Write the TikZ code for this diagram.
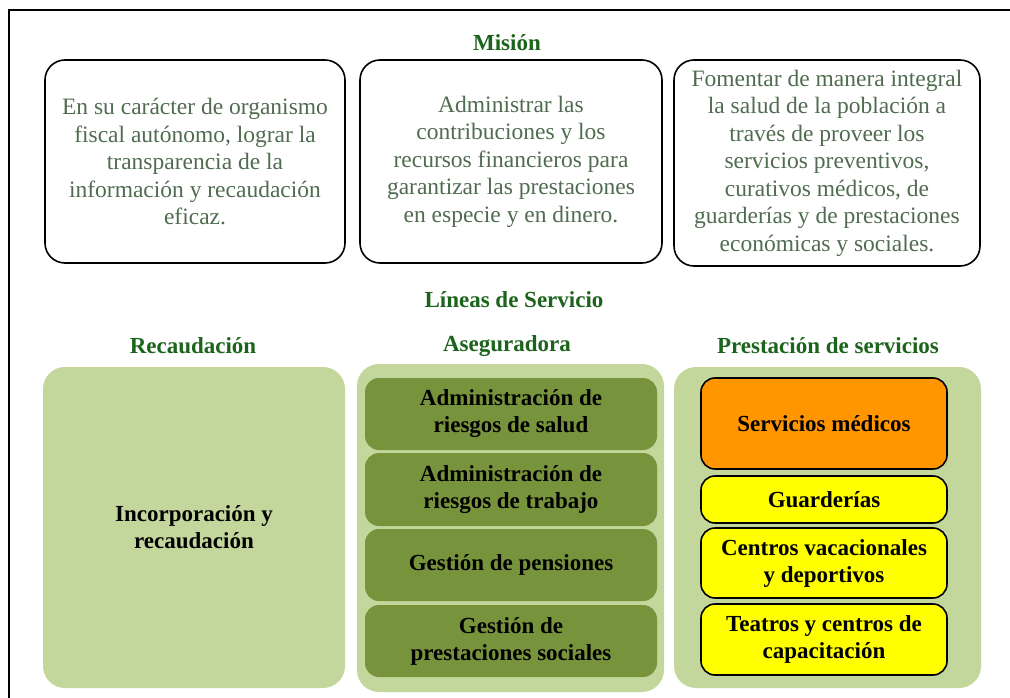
\documentclass[tikz,border=0pt]{standalone}
\usepackage{fontspec}
\setmainfont{Liberation Serif}
\usepackage{tikz}

\definecolor{titlegreen}{RGB}{28,100,28}
\definecolor{misiontext}{RGB}{80,108,80}
\definecolor{lightgreen}{RGB}{195,214,155}
\definecolor{darkgreen}{RGB}{119,147,60}
\definecolor{medorange}{RGB}{255,150,0}
\definecolor{boxyellow}{RGB}{255,255,0}

\tikzset{
  title/.style={font=\fontsize{23}{27}\selectfont\bfseries, text=titlegreen},
  misionbox/.style={draw=black, line width=1.6pt, rounded corners=20pt,
    align=center, text=misiontext, inner sep=0pt,
    font=\fontsize{23.5}{27.5}\selectfont},
  groupbox/.style={fill=lightgreen, rounded corners=22pt, inner sep=0pt},
  asegbox/.style={fill=darkgreen, rounded corners=14pt, align=center,
    inner sep=0pt, font=\fontsize{23}{27}\selectfont\bfseries},
  servbox/.style={draw=black, line width=1.6pt, rounded corners=14pt,
    align=center, inner sep=0pt, font=\fontsize{23}{27}\selectfont\bfseries}
}

\begin{document}
\begin{tikzpicture}[x=1pt,y=-1pt]
\useasboundingbox (0,0) rectangle (1010,698);
\clip (0,0) rectangle (1010,698);
\draw[line width=2pt] (9,10) rectangle (1030,720);

% mision
\node[title] (mision) at (507,43) {Misión};
\node[misionbox, minimum width=300pt, minimum height=203pt] (mis1) at (195,161.5)
  {En su carácter de organismo\\fiscal autónomo, lograr la\\transparencia de la\\información y recaudación\\eficaz.};
\node[misionbox, minimum width=302pt, minimum height=203pt] (mis2) at (511,161.5)
  {Administrar las\\contribuciones y los\\recursos financieros para\\garantizar las prestaciones\\en especie y en dinero.};
\node[misionbox, minimum width=306pt, minimum height=206pt] (mis3) at (827,163)
  {Fomentar de manera integral\\la salud de la población a\\través de proveer los\\servicios preventivos,\\curativos médicos, de\\guarderías y de prestaciones\\económicas y sociales.};

% lineas de servicio
\node[title] (lineas) at (514,300) {Líneas de Servicio};
\node[title] (recaud) at (193,346) {Recaudación};
\node[title] (asegur) at (507,346) {Aseguradora};
\node[title] (prest) at (828,346) {Prestación de servicios};

\node[groupbox, minimum width=302pt, minimum height=321pt, align=center,
  font=\fontsize{23}{27}\selectfont\bfseries] (incorp) at (194,527.5)
  {Incorporación y\\recaudación};

\node[groupbox, minimum width=307pt, minimum height=328pt] (asegbg) at (510.5,528) {};
\node[asegbox, minimum width=292pt, minimum height=72pt] (salud) at (511,414)
  {Administración de\\riesgos de salud};
\node[asegbox, minimum width=292pt, minimum height=73pt] (trabajo) at (511,489.5)
  {Administración de\\riesgos de trabajo};
\node[asegbox, minimum width=292pt, minimum height=72pt] (pensiones) at (511,565)
  {Gestión de pensiones};
\node[asegbox, minimum width=292pt, minimum height=72pt] (sociales) at (511,641)
  {Gestión de\\prestaciones sociales};

\node[groupbox, minimum width=307pt, minimum height=321pt] (prestbg) at (827.5,527.5) {};
\node[servbox, fill=medorange, minimum width=246pt, minimum height=91pt] (medicos) at (824,423.5)
  {Servicios médicos};
\node[servbox, fill=boxyellow, minimum width=246pt, minimum height=47pt] (guard) at (824,499.5)
  {Guarderías};
\node[servbox, fill=boxyellow, minimum width=246pt, minimum height=70pt] (centros) at (824,563)
  {Centros vacacionales\\y deportivos};
\node[servbox, fill=boxyellow, minimum width=246pt, minimum height=71pt] (teatros) at (824,639.5)
  {Teatros y centros de\\capacitación};
\end{tikzpicture}
\end{document}
